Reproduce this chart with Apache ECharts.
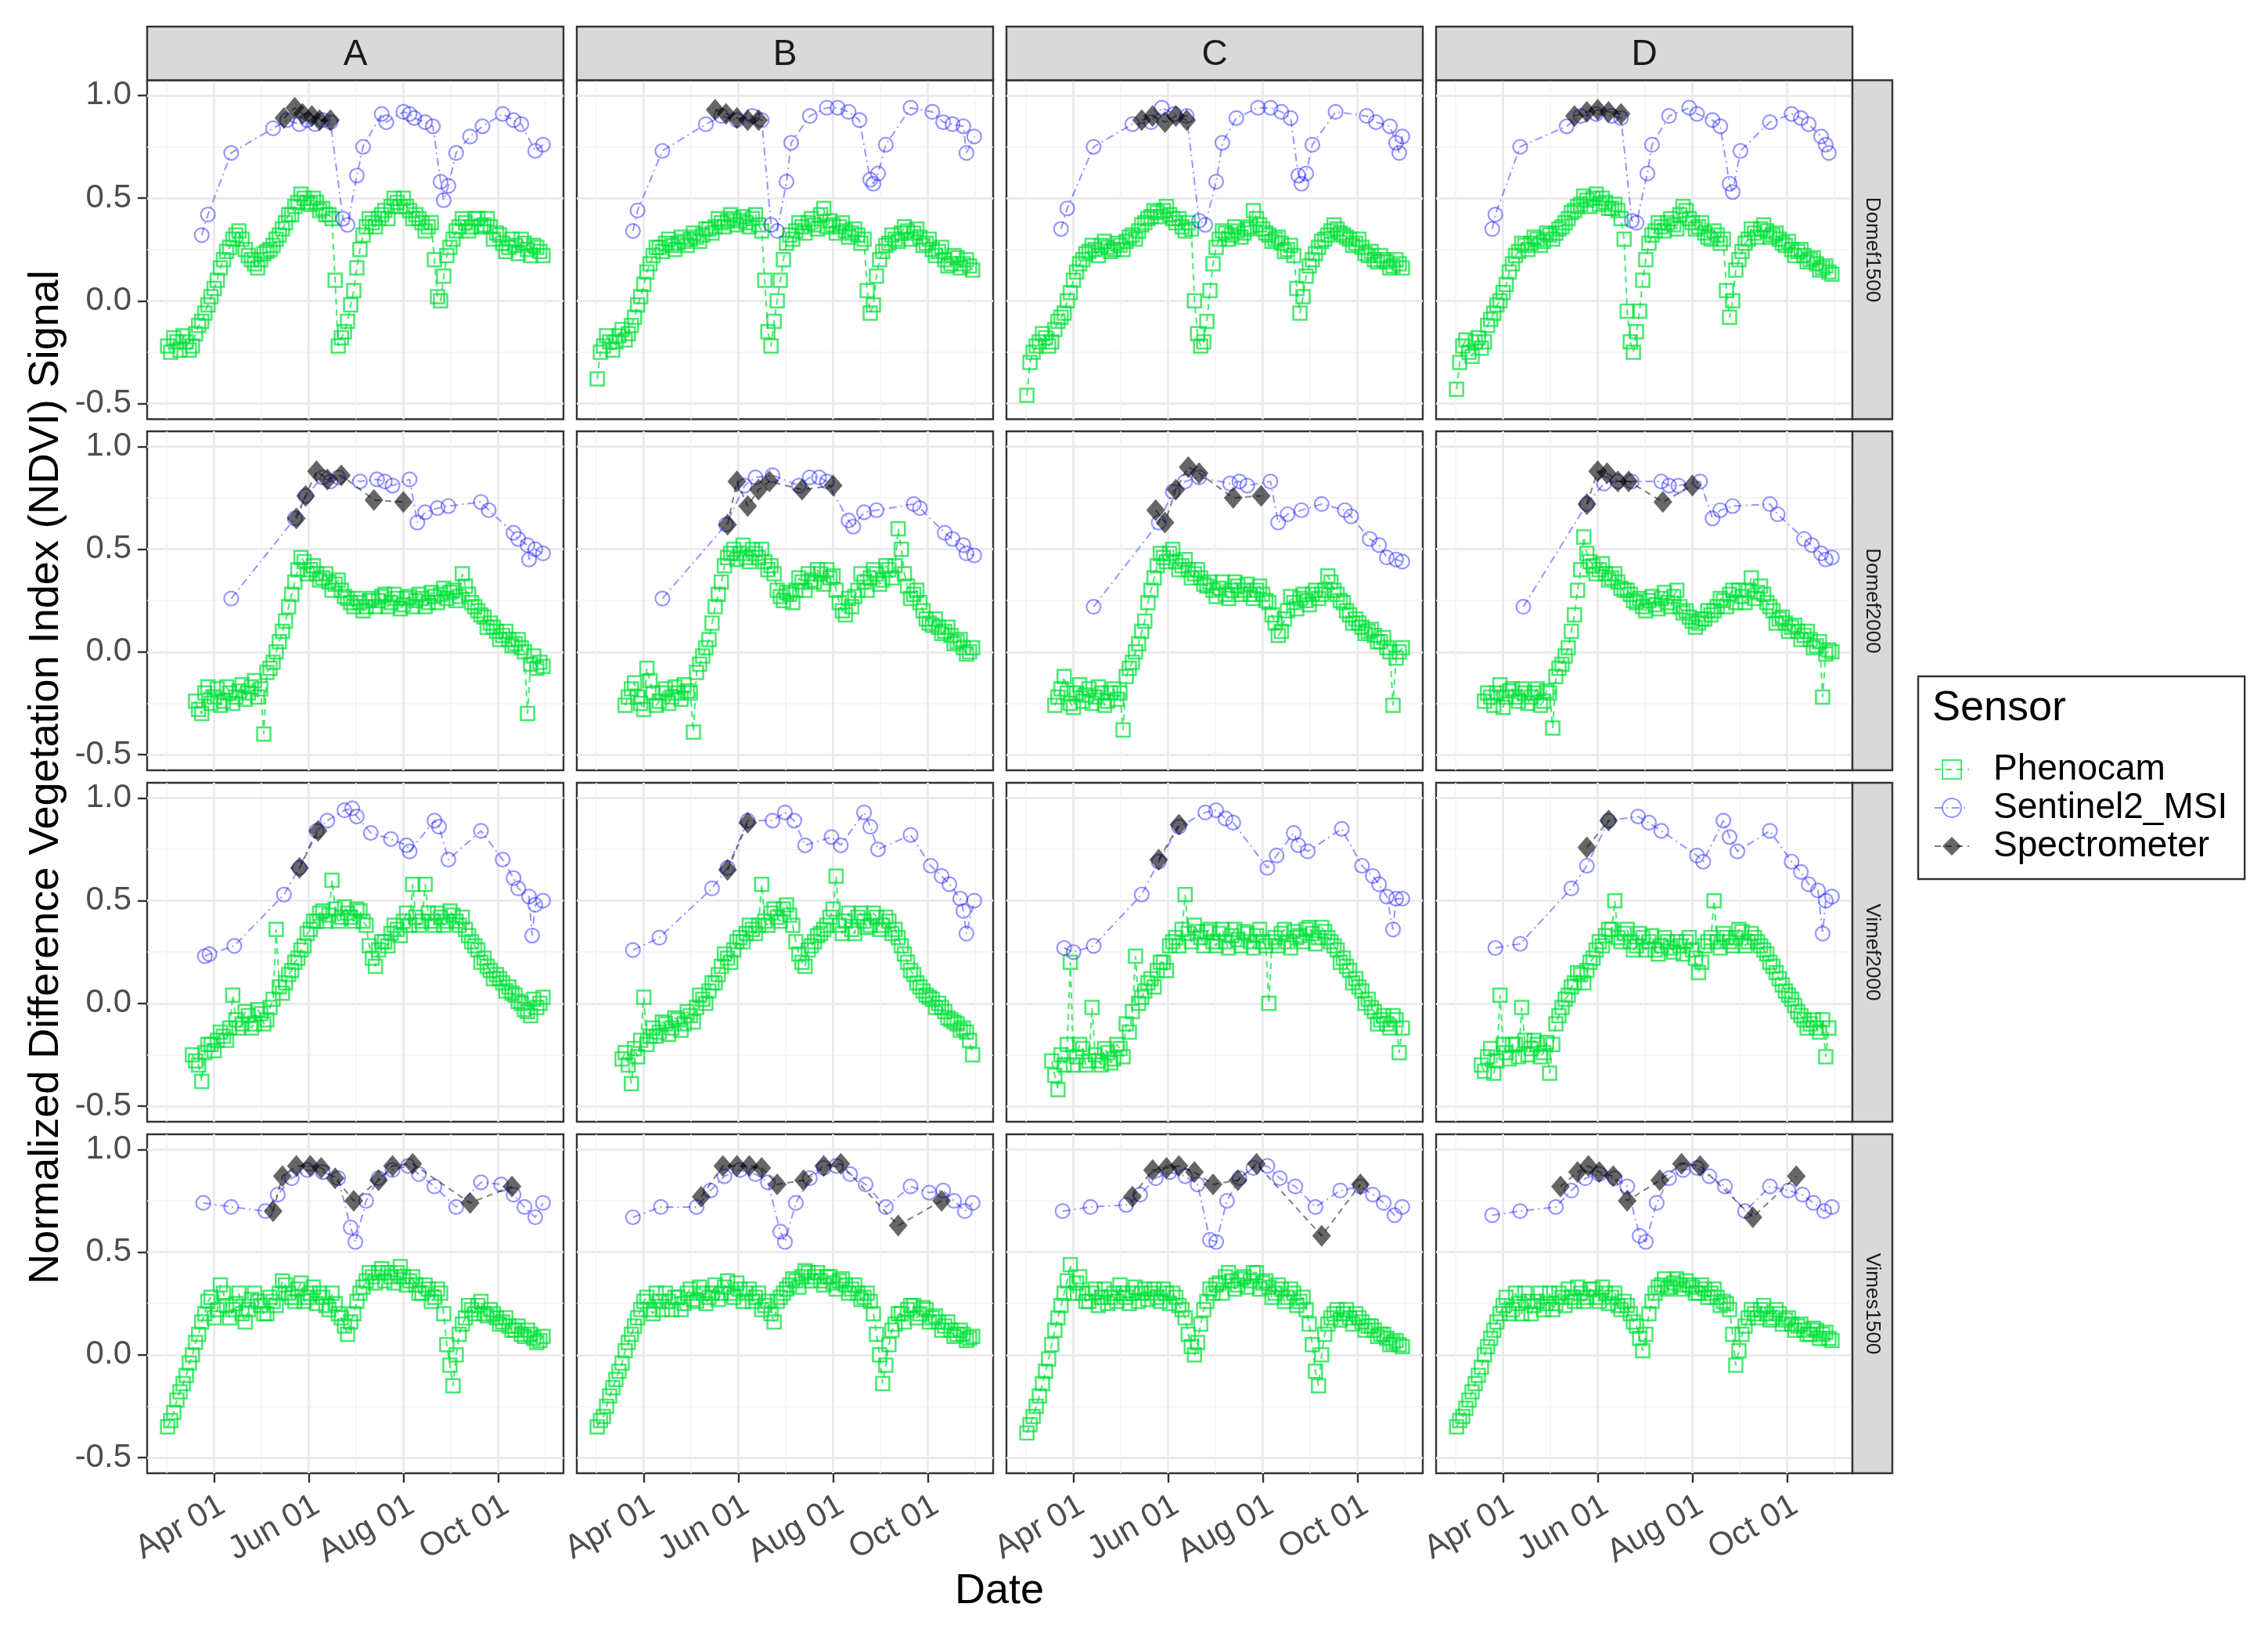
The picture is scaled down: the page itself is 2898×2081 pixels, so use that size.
<!DOCTYPE html>
<html><head><meta charset="utf-8">
<script src="https://cdn.jsdelivr.net/npm/echarts@6/dist/echarts.min.js"></script>
<style>html,body{margin:0;padding:0;background:#fff}#c{width:2898px;height:2081px}</style>
</head><body><div id="c"></div>
<script>
// ---------------- DATA ----------------
const rowNames = ['Domef1500','Domef2000','Vimef2000','Vimes1500'];
const colNames = ['A','B','C','D'];
const seriesNames = ['Phenocam','Sentinel2_MSI','Spectrometer'];
// x values are day of year (Jan 1 = 0, non-leap year)
const xTickDays = [90,151,212,273];
const xTickLabels = ['Apr 01','Jun 01','Aug 01','Oct 01'];
const xMinorDays = [59.5,120.5,181.5,242.5,303.5];
const yTicks = [-0.5,0,0.5,1];
const yTickLabels = ['-0.5','0.0','0.5','1.0'];
const yMinor = [-0.25,0.25,0.75];

// Phenocam sampled on two interleaved day lists
const phenoDaysA = [60,64,68,72,76,80,84,88,92,96,100,104,108,112,116,120,124,128,132,136,140,144,148,152,156,160,164,168,172,176,180,184,188,192,196,200,204,208,212,216,220,224,228,232,236,240,244,248,252,256,260,264,268,272,276,280,284,288,292,296,300];
const phenoDaysB = [62,66,70,74,78,82,86,90,94,98,102,106,110,114,118,122,126,130,134,138,142,146,150,154,158,162,166,170,174,178,182,186,190,194,198,202,206,210,214,218,222,226,230,234,238,242,246,250,254,258,262,266,270,274,278,282,286,290,294,298,302];

const pheno_Domef1500_A = [-0.22,-0.18,-0.24,-0.2,-0.22,-0.12,-0.06,0.02,0.1,0.2, 0.26,0.32,0.3,0.22,0.18,0.2,0.24,0.27,0.32,0.38, 0.42,0.48,0.5,0.47,0.48,0.45,0.42,0.1,-0.18,-0.1, 0.05,0.25,0.36,0.38,0.4,0.44,0.46,0.48,0.5,0.44, 0.42,0.38,0.36,0.2,0.0,0.22,0.3,0.36,0.38,0.36, 0.4,0.37,0.36,0.33,0.28,0.26,0.27,0.3,0.25,0.27, 0.24];
const phenoB_Domef1500_A = [-0.25,-0.2,-0.17,-0.24,-0.16,-0.1,-0.02,0.06,0.16,0.24, 0.3,0.34,0.25,0.2,0.16,0.23,0.25,0.3,0.35,0.42, 0.46,0.52,0.48,0.5,0.44,0.42,0.4,-0.22,-0.15,-0.02, 0.16,0.32,0.4,0.36,0.42,0.4,0.5,0.46,0.46,0.4, 0.4,0.34,0.38,0.02,0.12,0.26,0.34,0.4,0.34,0.4, 0.36,0.4,0.3,0.32,0.24,0.3,0.23,0.28,0.22,0.26, 0.22];
const pheno_Domef1500_B = [-0.38,-0.22,-0.2,-0.2,-0.14,-0.16,-0.08,0.02,0.14,0.22, 0.26,0.28,0.27,0.28,0.29,0.3,0.31,0.32,0.35,0.36, 0.38,0.39,0.4,0.39,0.38,0.4,0.37,0.1,-0.22,0.0, 0.2,0.32,0.34,0.36,0.38,0.37,0.42,0.36,0.37,0.36, 0.34,0.33,0.32,0.3,-0.06,0.12,0.24,0.28,0.3,0.33, 0.34,0.33,0.31,0.28,0.25,0.24,0.2,0.18,0.21,0.18, 0.17];
const phenoB_Domef1500_B = [-0.25,-0.17,-0.24,-0.17,-0.19,-0.12,-0.02,0.08,0.18,0.26, 0.24,0.3,0.25,0.31,0.27,0.33,0.29,0.35,0.33,0.4, 0.36,0.42,0.37,0.41,0.36,0.42,0.34,-0.15,-0.1,0.1, 0.28,0.3,0.38,0.33,0.4,0.35,0.45,0.39,0.33,0.38, 0.31,0.35,0.28,0.05,-0.02,0.2,0.27,0.32,0.29,0.36, 0.3,0.35,0.27,0.3,0.22,0.26,0.17,0.22,0.16,0.2, 0.15];
const pheno_Domef1500_C = [-0.46,-0.25,-0.2,-0.18,-0.2,-0.1,-0.06,0.04,0.14,0.2, 0.24,0.25,0.27,0.26,0.25,0.27,0.29,0.32,0.34,0.38, 0.41,0.43,0.44,0.42,0.38,0.36,0.38,0.0,-0.22,-0.1, 0.18,0.3,0.33,0.32,0.34,0.33,0.36,0.4,0.35,0.32, 0.3,0.28,0.25,0.22,-0.06,0.12,0.2,0.26,0.3,0.34, 0.35,0.32,0.3,0.28,0.26,0.22,0.2,0.22,0.19,0.17, 0.18];
const phenoB_Domef1500_C = [-0.3,-0.22,-0.16,-0.22,-0.14,-0.08,0.0,0.1,0.18,0.23, 0.27,0.22,0.29,0.24,0.28,0.25,0.31,0.3,0.37,0.4, 0.44,0.41,0.46,0.4,0.4,0.34,0.35,-0.16,-0.2,0.05, 0.26,0.34,0.3,0.36,0.31,0.35,0.44,0.37,0.33,0.29, 0.31,0.24,0.27,0.06,0.02,0.17,0.23,0.29,0.32,0.37, 0.33,0.31,0.27,0.3,0.23,0.24,0.19,0.2,0.16,0.2, 0.16];
const pheno_Domef1500_D = [-0.43,-0.22,-0.25,-0.2,-0.23,-0.12,-0.06,0.0,0.08,0.18, 0.24,0.27,0.28,0.3,0.29,0.32,0.33,0.36,0.4,0.44, 0.47,0.49,0.5,0.47,0.48,0.45,0.44,0.3,-0.2,-0.15, 0.1,0.28,0.34,0.36,0.38,0.37,0.42,0.44,0.38,0.36, 0.33,0.3,0.32,0.3,-0.08,0.15,0.24,0.3,0.33,0.35, 0.34,0.32,0.3,0.27,0.25,0.24,0.22,0.2,0.18,0.16, 0.14];
const phenoB_Domef1500_D = [-0.3,-0.19,-0.27,-0.18,-0.2,-0.09,-0.02,0.04,0.14,0.22, 0.28,0.25,0.31,0.27,0.33,0.3,0.35,0.38,0.43,0.46, 0.51,0.46,0.52,0.5,0.45,0.47,0.4,-0.05,-0.25,-0.05, 0.2,0.32,0.38,0.34,0.4,0.35,0.46,0.4,0.35,0.38, 0.31,0.34,0.28,0.05,0.0,0.2,0.28,0.35,0.31,0.37, 0.31,0.33,0.28,0.29,0.22,0.25,0.19,0.21,0.15,0.17, 0.13];

const pheno_Domef2000_A = [null,null,null,null,null,-0.28,-0.2,-0.25,-0.18,-0.24, -0.2,-0.22,-0.16,-0.2,-0.14,-0.18,-0.1,-0.05,0.05,0.15, 0.28,0.4,0.44,0.4,0.38,0.36,0.34,0.33,0.3,0.26, 0.22,0.24,0.22,0.26,0.25,0.28,0.24,0.26,0.23,0.27, 0.25,0.26,0.24,0.27,0.28,0.26,0.3,0.27,0.32,0.24, 0.2,0.17,0.14,0.1,0.08,0.06,0.04,0.02,-0.3,-0.02, -0.05];
const phenoB_Domef2000_A = [null,null,null,null,-0.24,-0.3,-0.17,-0.22,-0.26,-0.17, -0.25,-0.19,-0.23,-0.17,-0.22,-0.4,-0.08,0.0,0.1,0.22, 0.34,0.46,0.38,0.42,0.35,0.38,0.3,0.35,0.27,0.24, 0.26,0.2,0.25,0.22,0.27,0.22,0.28,0.21,0.26,0.22, 0.28,0.22,0.29,0.24,0.31,0.29,0.25,0.38,0.28,0.22, 0.18,0.12,0.12,0.06,0.1,0.03,0.06,0.0,-0.06,-0.08, -0.07];
const pheno_Domef2000_B = [null,null,null,null,null,-0.22,-0.15,-0.25,-0.08,-0.2, -0.24,-0.18,-0.22,-0.2,-0.16,-0.2,-0.1,-0.02,0.06,0.22, 0.34,0.46,0.5,0.48,0.46,0.5,0.46,0.44,0.42,0.3, 0.25,0.28,0.3,0.34,0.38,0.34,0.38,0.4,0.37,0.24, 0.18,0.22,0.3,0.34,0.36,0.38,0.35,0.4,0.42,0.5, 0.32,0.28,0.24,0.16,0.13,0.12,0.1,0.08,0.05,0.02, 0.0];
const phenoB_Domef2000_B = [null,null,null,null,-0.26,-0.18,-0.22,-0.28,-0.14,-0.26, -0.2,-0.25,-0.17,-0.23,-0.19,-0.39,-0.06,0.02,0.14,0.28, 0.42,0.48,0.45,0.52,0.44,0.48,0.5,0.4,0.38,0.27, 0.29,0.24,0.36,0.3,0.35,0.4,0.33,0.36,0.3,0.2, 0.26,0.27,0.38,0.3,0.4,0.33,0.42,0.36,0.6,0.38, 0.26,0.3,0.2,0.14,0.16,0.09,0.12,0.04,0.06,-0.01, 0.02];
const pheno_Domef2000_C = [null,null,null,null,null,-0.22,-0.12,-0.25,-0.2,-0.24, -0.18,-0.22,-0.2,-0.24,-0.18,-0.2,-0.12,-0.05,0.04,0.15, 0.3,0.42,0.46,0.48,0.44,0.42,0.4,0.38,0.36,0.32, 0.3,0.31,0.28,0.3,0.32,0.3,0.28,0.3,0.28,0.24, 0.14,0.1,0.2,0.24,0.26,0.25,0.28,0.26,0.3,0.34, 0.28,0.24,0.18,0.16,0.12,0.1,0.08,0.05,0.02,-0.26, 0.0];
const phenoB_Domef2000_C = [null,null,null,null,-0.26,-0.18,-0.2,-0.27,-0.16,-0.21, -0.25,-0.17,-0.26,-0.2,-0.23,-0.38,-0.08,0.0,0.1,0.24, 0.36,0.48,0.44,0.5,0.4,0.45,0.36,0.4,0.33,0.34, 0.27,0.34,0.26,0.34,0.28,0.33,0.26,0.32,0.25,0.18, 0.08,0.16,0.27,0.21,0.28,0.23,0.3,0.28,0.37,0.3, 0.25,0.2,0.14,0.14,0.09,0.11,0.05,0.07,0.0,-0.03, 0.02];
const pheno_Domef2000_D = [null,null,null,null,null,-0.2,-0.26,-0.16,-0.22,-0.18, -0.24,-0.2,-0.22,-0.18,-0.24,-0.2,-0.12,-0.06,0.02,0.18, 0.4,0.48,0.42,0.4,0.38,0.36,0.34,0.3,0.28,0.24, 0.22,0.25,0.23,0.26,0.24,0.27,0.22,0.2,0.15,0.14, 0.16,0.18,0.22,0.25,0.28,0.24,0.27,0.3,0.26,0.32, 0.24,0.2,0.16,0.14,0.12,0.1,0.08,0.06,0.03,-0.22, 0.01];
const phenoB_Domef2000_D = [null,null,null,null,-0.24,-0.22,-0.2,-0.27,-0.19,-0.22, -0.18,-0.25,-0.2,-0.26,-0.19,-0.37,-0.08,-0.02,0.1,0.3, 0.56,0.44,0.38,0.43,0.35,0.38,0.31,0.3,0.25,0.26, 0.2,0.27,0.21,0.29,0.22,0.3,0.19,0.17,0.12,0.16, 0.2,0.2,0.26,0.22,0.3,0.3,0.24,0.36,0.29,0.28, 0.22,0.14,0.17,0.1,0.13,0.06,0.1,0.02,0.05,-0.01, 0.0];

const pheno_Vimef2000_A = [null,null,null,null,-0.25,-0.3,-0.24,-0.2,-0.18,-0.16, -0.12,-0.08,-0.1,-0.06,-0.1,-0.05,-0.08,0.02,0.08,0.1, 0.16,0.22,0.28,0.36,0.4,0.45,0.43,0.46,0.42,0.44, 0.4,0.45,0.38,0.22,0.26,0.3,0.34,0.36,0.4,0.38, 0.42,0.4,0.44,0.38,0.42,0.4,0.43,0.38,0.36,0.3, 0.26,0.22,0.16,0.14,0.1,0.08,0.04,0.0,-0.04,0.02, 0.0];
const phenoB_Vimef2000_A = [null,null,null,null,-0.28,-0.38,-0.2,-0.23,-0.14,-0.18, 0.04,-0.12,-0.04,-0.12,-0.03,-0.1,-0.02,0.36,0.05,0.14, 0.2,0.26,0.34,0.4,0.44,0.4,0.6,0.4,0.47,0.42, 0.46,0.4,0.28,0.18,0.3,0.28,0.38,0.33,0.44,0.58, 0.38,0.58,0.4,0.44,0.38,0.45,0.4,0.42,0.33,0.28, 0.2,0.18,0.12,0.12,0.06,0.05,0.01,-0.03,-0.06,-0.02, 0.03];
const pheno_Vimef2000_B = [null,null,null,null,-0.27,-0.3,-0.22,-0.18,-0.2,-0.12, -0.14,-0.1,-0.12,-0.08,-0.1,-0.06,-0.02,0.02,0.06,0.1, 0.18,0.22,0.26,0.32,0.34,0.36,0.38,0.4,0.44,0.42, 0.46,0.43,0.3,0.2,0.26,0.3,0.34,0.38,0.46,0.38, 0.4,0.36,0.42,0.4,0.38,0.42,0.38,0.4,0.36,0.28, 0.2,0.14,0.08,0.04,0.02,0.0,-0.04,-0.08,-0.1,-0.12, -0.18];
const phenoB_Vimef2000_B = [null,null,null,null,-0.24,-0.39,-0.26,0.03,-0.16,-0.16, -0.09,-0.15,-0.07,-0.13,-0.04,-0.09,0.04,0.0,0.1,0.14, 0.24,0.2,0.3,0.3,0.38,0.34,0.58,0.38,0.46,0.4, 0.48,0.38,0.24,0.18,0.28,0.33,0.36,0.42,0.62,0.34, 0.44,0.34,0.44,0.37,0.44,0.36,0.42,0.34,0.32,0.24, 0.16,0.1,0.06,0.03,-0.02,-0.02,-0.07,-0.09,-0.13,-0.14, -0.25];
const pheno_Vimef2000_C = [null,null,null,null,-0.28,-0.42,-0.3,0.2,-0.26,-0.22, -0.28,-0.25,-0.3,-0.24,-0.27,-0.22,-0.1,-0.04,0.0,0.06, 0.12,0.16,0.2,0.28,0.32,0.36,0.34,0.38,0.32,0.35, 0.3,0.34,0.3,0.33,0.31,0.35,0.3,0.33,0.3,0.0, 0.32,0.34,0.3,0.35,0.33,0.36,0.34,0.32,0.35,0.3, 0.26,0.22,0.16,0.12,0.06,0.02,-0.04,-0.08,-0.1,-0.06, -0.24];
const phenoB_Vimef2000_C = [null,null,null,null,-0.35,-0.25,-0.2,-0.3,-0.2,-0.3, -0.02,-0.28,-0.22,-0.29,-0.2,-0.26,-0.14,0.23,0.03,0.1, 0.08,0.2,0.16,0.3,0.28,0.53,0.3,0.35,0.28,0.36, 0.28,0.36,0.27,0.36,0.28,0.34,0.27,0.36,0.28,0.3, 0.28,0.36,0.27,0.32,0.3,0.37,0.29,0.37,0.32,0.28, 0.2,0.18,0.1,0.08,0.0,-0.02,-0.1,-0.06,-0.12,-0.08, -0.12];
const pheno_Vimef2000_D = [null,null,null,null,-0.3,-0.26,-0.34,0.04,-0.24,-0.2, -0.26,-0.18,-0.22,-0.2,-0.24,-0.34,-0.1,-0.02,0.04,0.1, 0.14,0.16,0.22,0.3,0.33,0.36,0.32,0.34,0.3,0.28, 0.32,0.3,0.26,0.28,0.3,0.25,0.28,0.3,0.26,0.15, 0.28,0.32,0.3,0.34,0.3,0.32,0.35,0.3,0.32,0.28, 0.24,0.18,0.12,0.06,0.02,-0.04,-0.08,-0.1,-0.12,-0.08, -0.12];
const phenoB_Vimef2000_D = [null,null,null,null,-0.33,-0.22,-0.28,-0.2,-0.27,-0.2, -0.02,-0.25,-0.18,-0.26,-0.19,-0.2,-0.06,0.02,0.08,0.15, 0.1,0.2,0.26,0.28,0.36,0.5,0.3,0.36,0.26,0.34, 0.26,0.33,0.24,0.32,0.27,0.3,0.24,0.32,0.22,0.2, 0.3,0.5,0.27,0.32,0.28,0.36,0.28,0.34,0.3,0.26, 0.2,0.15,0.09,0.04,-0.01,-0.06,-0.12,-0.08,-0.14,-0.26, null];

const pheno_Vimes1500_A = [-0.35,-0.28,-0.18,-0.1,0.0,0.1,0.2,0.28,0.22,0.3, 0.18,0.25,0.2,0.22,0.3,0.24,0.2,0.26,0.3,0.34, 0.28,0.32,0.26,0.3,0.25,0.28,0.22,0.25,0.18,0.1, 0.2,0.3,0.36,0.38,0.4,0.36,0.38,0.4,0.38,0.36, 0.34,0.3,0.32,0.28,0.3,0.05,-0.15,0.1,0.18,0.22, 0.24,0.2,0.22,0.18,0.16,0.14,0.12,0.1,0.12,0.08, 0.07];
const phenoB_Vimes1500_A = [-0.32,-0.22,-0.14,-0.04,0.06,0.16,0.26,0.18,0.34,0.24, 0.22,0.3,0.16,0.27,0.26,0.2,0.28,0.24,0.36,0.3, 0.26,0.35,0.28,0.33,0.3,0.24,0.3,0.2,0.14,0.16, 0.26,0.33,0.4,0.35,0.42,0.4,0.35,0.43,0.34,0.38, 0.3,0.34,0.26,0.32,0.2,-0.05,0.0,0.15,0.24,0.2, 0.26,0.19,0.2,0.15,0.18,0.12,0.14,0.09,0.1,0.06, 0.09];
const pheno_Vimes1500_B = [-0.35,-0.3,-0.2,-0.12,-0.04,0.06,0.14,0.22,0.28,0.2, 0.26,0.3,0.22,0.28,0.25,0.32,0.26,0.3,0.28,0.34, 0.3,0.36,0.28,0.32,0.3,0.26,0.3,0.24,0.2,0.26, 0.3,0.34,0.36,0.38,0.4,0.38,0.36,0.38,0.35,0.36, 0.34,0.32,0.3,0.28,0.26,0.1,-0.14,0.05,0.15,0.2, 0.22,0.24,0.2,0.22,0.18,0.16,0.14,0.12,0.1,0.1, 0.08];
const phenoB_Vimes1500_B = [-0.32,-0.25,-0.16,-0.08,0.02,0.1,0.18,0.26,0.22,0.3, 0.22,0.26,0.28,0.22,0.3,0.27,0.33,0.25,0.3,0.27, 0.33,0.3,0.35,0.26,0.32,0.28,0.22,0.26,0.16,0.28, 0.32,0.37,0.33,0.41,0.36,0.4,0.34,0.38,0.32,0.37, 0.3,0.34,0.27,0.3,0.2,0.0,-0.05,0.12,0.2,0.16, 0.24,0.18,0.23,0.16,0.19,0.12,0.16,0.09,0.12,0.07, 0.09];
const pheno_Vimes1500_C = [-0.38,-0.3,-0.2,-0.08,0.05,0.18,0.3,0.44,0.35,0.3, 0.26,0.32,0.28,0.25,0.3,0.34,0.28,0.3,0.26,0.32, 0.3,0.28,0.32,0.25,0.28,0.22,0.1,0.0,0.15,0.26, 0.3,0.35,0.38,0.36,0.34,0.38,0.36,0.4,0.35,0.33, 0.3,0.32,0.28,0.3,0.26,0.22,0.05,-0.15,0.1,0.18, 0.22,0.2,0.18,0.2,0.16,0.14,0.12,0.1,0.08,0.06, 0.05];
const phenoB_Vimes1500_C = [-0.34,-0.25,-0.14,-0.02,0.12,0.24,0.36,0.3,0.38,0.26, 0.3,0.24,0.32,0.28,0.26,0.3,0.25,0.33,0.3,0.27, 0.32,0.26,0.3,0.3,0.24,0.18,0.04,0.06,0.22,0.32, 0.34,0.3,0.4,0.32,0.37,0.33,0.4,0.32,0.36,0.28, 0.34,0.26,0.32,0.24,0.28,0.15,-0.08,0.0,0.15,0.2, 0.17,0.22,0.15,0.18,0.12,0.14,0.09,0.1,0.05,0.07, 0.04];
const pheno_Vimes1500_D = [-0.35,-0.3,-0.22,-0.14,-0.06,0.04,0.12,0.2,0.28,0.22, 0.25,0.3,0.2,0.26,0.22,0.3,0.25,0.28,0.32,0.26, 0.3,0.28,0.32,0.26,0.3,0.28,0.24,0.26,0.2,0.14, 0.02,0.2,0.3,0.34,0.32,0.35,0.34,0.36,0.33,0.3, 0.32,0.3,0.28,0.26,0.22,-0.05,0.1,0.18,0.2,0.22, 0.2,0.18,0.2,0.17,0.15,0.14,0.12,0.1,0.12,0.1, 0.08];
const phenoB_Vimes1500_D = [-0.32,-0.26,-0.18,-0.1,0.0,0.08,0.16,0.24,0.2,0.3, 0.2,0.26,0.24,0.3,0.25,0.22,0.3,0.24,0.28,0.33, 0.26,0.32,0.28,0.33,0.25,0.3,0.22,0.24,0.16,0.08, 0.1,0.26,0.33,0.37,0.33,0.37,0.32,0.34,0.3,0.34, 0.28,0.32,0.24,0.25,0.1,0.02,0.14,0.22,0.18,0.24, 0.17,0.22,0.15,0.18,0.12,0.15,0.1,0.13,0.08,0.11, 0.07];

// Sentinel2_MSI: [day of year, NDVI]
const s2_Domef1500_A = [[82,0.32],[86,0.42],[101,0.72],[128,0.84],[137,0.88],[145,0.86],[150,0.88],[155,0.86],[160,0.88],[165,0.87],[173,0.40],[176,0.37],[182,0.61],[186,0.75],[198,0.91],[201,0.87],[212,0.92],[216,0.91],[219,0.89],[226,0.87],[231,0.85],[236,0.58],[238,0.49],[241,0.56],[246,0.72],[255,0.80],[263,0.85],[276,0.91],[283,0.88],[288,0.86],[297,0.73],[302,0.76]];
const s2_Domef1500_B = [[83,0.34],[86,0.44],[102,0.73],[130,0.86],[140,0.90],[150,0.88],[160,0.90],[166,0.88],[172,0.37],[176,0.34],[182,0.58],[185,0.77],[197,0.90],[208,0.94],[215,0.94],[222,0.92],[229,0.88],[236,0.59],[238,0.57],[241,0.62],[246,0.76],[262,0.94],[276,0.92],[283,0.87],[289,0.86],[296,0.85],[298,0.72],[303,0.80]];
const s2_Domef1500_C = [[82,0.35],[86,0.45],[103,0.75],[128,0.86],[140,0.87],[147,0.94],[155,0.91],[163,0.90],[171,0.39],[175,0.37],[182,0.58],[186,0.77],[195,0.89],[209,0.94],[217,0.94],[224,0.92],[230,0.89],[235,0.61],[237,0.57],[240,0.62],[244,0.76],[259,0.92],[279,0.90],[285,0.87],[294,0.85],[298,0.77],[300,0.72],[302,0.80]];
const s2_Domef1500_D = [[83,0.35],[85,0.42],[101,0.75],[131,0.85],[140,0.90],[150,0.91],[160,0.90],[166,0.89],[173,0.39],[176,0.38],[183,0.62],[186,0.76],[197,0.90],[210,0.94],[215,0.91],[225,0.88],[230,0.85],[236,0.57],[238,0.53],[243,0.73],[262,0.87],[276,0.91],[282,0.89],[287,0.86],[295,0.80],[298,0.76],[300,0.72]];
const s2_Domef2000_A = [[101,0.26],[142,0.65],[149,0.76],[160,0.85],[165,0.83],[170,0.85],[184,0.83],[195,0.84],[200,0.83],[205,0.81],[216,0.84],[221,0.63],[226,0.68],[234,0.70],[241,0.71],[262,0.73],[267,0.69],[283,0.58],[286,0.55],[292,0.52],[293,0.45],[297,0.50],[302,0.48]];
const s2_Domef2000_B = [[102,0.26],[143,0.62],[155,0.81],[162,0.85],[173,0.86],[190,0.81],[197,0.85],[203,0.85],[208,0.83],[222,0.64],[225,0.61],[232,0.68],[240,0.69],[264,0.72],[268,0.70],[284,0.58],[289,0.55],[296,0.52],[298,0.48],[303,0.47]];
const s2_Domef2000_C = [[103,0.22],[145,0.63],[154,0.78],[162,0.83],[171,0.85],[191,0.82],[197,0.83],[202,0.81],[217,0.83],[222,0.63],[228,0.67],[237,0.69],[250,0.72],[265,0.69],[269,0.66],[281,0.55],[287,0.52],[292,0.46],[298,0.45],[302,0.44]];
const s2_Domef2000_D = [[103,0.22],[144,0.72],[155,0.82],[164,0.83],[173,0.83],[192,0.83],[197,0.81],[203,0.81],[217,0.83],[225,0.65],[230,0.69],[238,0.71],[262,0.72],[267,0.67],[284,0.55],[289,0.52],[295,0.48],[298,0.45],[302,0.46]];
const s2_Vimef2000_A = [[84,0.23],[87,0.24],[103,0.28],[135,0.53],[145,0.66],[156,0.84],[163,0.89],[174,0.94],[179,0.95],[182,0.91],[191,0.83],[204,0.80],[214,0.77],[216,0.74],[232,0.89],[235,0.86],[241,0.70],[262,0.84],[276,0.70],[283,0.61],[286,0.56],[293,0.52],[295,0.33],[297,0.48],[302,0.50]];
const s2_Vimef2000_B = [[83,0.26],[100,0.32],[134,0.56],[144,0.66],[157,0.89],[173,0.89],[181,0.93],[187,0.89],[194,0.77],[211,0.81],[217,0.77],[232,0.93],[236,0.86],[241,0.75],[262,0.82],[275,0.67],[282,0.62],[287,0.58],[294,0.51],[296,0.45],[298,0.34],[303,0.50]];
const s2_Vimef2000_C = [[84,0.27],[90,0.25],[103,0.28],[134,0.53],[145,0.69],[158,0.86],[175,0.93],[182,0.94],[188,0.90],[193,0.88],[215,0.66],[221,0.72],[232,0.83],[235,0.77],[241,0.74],[263,0.85],[276,0.67],[283,0.62],[287,0.58],[292,0.52],[296,0.36],[298,0.51],[302,0.51]];
const s2_Vimef2000_D = [[85,0.27],[101,0.29],[134,0.56],[144,0.67],[158,0.89],[177,0.91],[184,0.88],[192,0.84],[215,0.72],[219,0.69],[232,0.89],[236,0.81],[241,0.74],[262,0.84],[276,0.69],[282,0.64],[287,0.58],[293,0.55],[296,0.34],[298,0.50],[302,0.52]];
const s2_Vimes1500_A = [[83,0.74],[101,0.72],[123,0.70],[131,0.78],[140,0.86],[150,0.90],[160,0.89],[170,0.86],[178,0.62],[181,0.55],[188,0.75],[196,0.86],[205,0.90],[215,0.92],[222,0.88],[232,0.82],[246,0.72],[262,0.84],[275,0.83],[283,0.78],[290,0.72],[297,0.67],[302,0.74]];
const s2_Vimes1500_B = [[83,0.67],[101,0.72],[124,0.72],[133,0.80],[142,0.87],[152,0.90],[162,0.88],[170,0.84],[178,0.60],[181,0.55],[188,0.74],[197,0.86],[206,0.91],[214,0.92],[223,0.88],[233,0.83],[246,0.72],[262,0.82],[274,0.79],[283,0.80],[290,0.75],[297,0.70],[302,0.74]];
const s2_Vimes1500_C = [[83,0.70],[101,0.72],[124,0.73],[133,0.78],[143,0.86],[152,0.89],[162,0.87],[170,0.83],[178,0.56],[182,0.55],[189,0.75],[197,0.86],[206,0.91],[215,0.92],[223,0.86],[233,0.82],[246,0.72],[262,0.80],[275,0.82],[283,0.78],[290,0.74],[297,0.68],[302,0.72]];
const s2_Vimes1500_D = [[83,0.68],[101,0.70],[124,0.72],[134,0.80],[143,0.86],[152,0.88],[162,0.86],[170,0.82],[178,0.58],[182,0.55],[189,0.74],[197,0.86],[206,0.90],[215,0.91],[223,0.87],[233,0.82],[246,0.70],[262,0.82],[274,0.80],[283,0.78],[290,0.74],[297,0.70],[302,0.72]];

// Spectrometer: [day of year, NDVI]
const sp_Domef1500_A = [[135,0.89],[142,0.94],[147,0.91],[153,0.90],[158,0.88],[165,0.88]];
const sp_Domef1500_B = [[136,0.93],[143,0.91],[150,0.89],[157,0.88],[164,0.88]];
const sp_Domef1500_C = [[134,0.88],[141,0.90],[149,0.87],[156,0.90],[163,0.88]];
const sp_Domef1500_D = [[136,0.90],[144,0.92],[151,0.93],[158,0.92],[166,0.91]];
const sp_Domef2000_A = [[143,0.65],[149,0.76],[156,0.88],[163,0.84],[172,0.86],[193,0.74],[212,0.73]];
const sp_Domef2000_B = [[144,0.62],[150,0.83],[157,0.71],[164,0.79],[171,0.83],[192,0.79],[212,0.81]];
const sp_Domef2000_C = [[143,0.69],[149,0.63],[156,0.79],[164,0.90],[171,0.87],[193,0.75],[211,0.76]];
const sp_Domef2000_D = [[144,0.72],[151,0.88],[157,0.87],[164,0.83],[171,0.83],[193,0.73],[212,0.81]];
const sp_Vimef2000_A = [[145,0.66],[157,0.84]];
const sp_Vimef2000_B = [[144,0.65],[157,0.88]];
const sp_Vimef2000_C = [[145,0.70],[158,0.87]];
const sp_Vimef2000_D = [[144,0.76],[158,0.89]];
const sp_Vimes1500_A = [[128,0.70],[134,0.87],[143,0.92],[152,0.92],[159,0.91],[168,0.86],[180,0.75],[196,0.85],[205,0.92],[218,0.93],[255,0.74],[282,0.82]];
const sp_Vimes1500_B = [[127,0.77],[141,0.92],[150,0.92],[158,0.92],[166,0.91],[176,0.83],[193,0.85],[206,0.92],[217,0.93],[254,0.63],[282,0.75]];
const sp_Vimes1500_C = [[128,0.77],[141,0.90],[150,0.91],[158,0.92],[168,0.89],[180,0.83],[196,0.85],[208,0.93],[250,0.58],[275,0.83]];
const sp_Vimes1500_D = [[127,0.82],[138,0.89],[145,0.92],[152,0.89],[161,0.87],[170,0.75],[191,0.85],[205,0.93],[217,0.92],[251,0.67],[279,0.87]];

// ---------------- LAYOUT / STYLE ----------------
const FONT = "'Liberation Sans', Arial, Helvetica, sans-serif";
const gridLeft = [188, 737, 1286, 1835];
const gridTop = [102.5, 551, 1000, 1449];
const gridW = 532, gridH = 433;
const xMin = 46.8, xMax = 315.2, yMin = -0.576, yMax = 1.074;
const GREEN = 'rgba(0,225,55,0.72)';
const BLUE = 'rgba(20,20,255,0.45)';
const DARK = 'rgba(0,0,0,0.6)';
const FRAME = '#333333';

const LOOKUP = {};
rowNames.forEach(rn => colNames.forEach(cn => {
  LOOKUP[rn + cn] = {
    pa: eval('pheno_' + rn + '_' + cn), pb: eval('phenoB_' + rn + '_' + cn),
    s2: eval('s2_' + rn + '_' + cn), sp: eval('sp_' + rn + '_' + cn)
  };
}));

const grids = [], xAxes = [], yAxes = [], series = [], graphics = [];

rowNames.forEach((rn, r) => {
  colNames.forEach((cn, c) => {
    const k = r * 4 + c;
    const isBottom = r === 3, isLeft = c === 0;
    const D = LOOKUP[rn + cn];
    grids.push({left: gridLeft[c], top: gridTop[r], width: gridW, height: gridH,
      show: true, borderColor: FRAME, borderWidth: 2.4, backgroundColor: '#fff'});
    xAxes.push({type: 'value', gridIndex: k, min: xMin, max: xMax, position: 'bottom',
      axisLine: {show: false, onZero: false},
      axisTick: {show: isBottom, customValues: xTickDays, length: 12, lineStyle: {color: FRAME, width: 2.4}},
      axisLabel: {show: isBottom, customValues: xTickDays, rotate: 30, margin: 20,
        fontSize: 42, fontFamily: FONT, color: '#4D4D4D', align: 'right', verticalAlign: 'top',
        formatter: v => { const i = xTickDays.indexOf(Math.round(v)); return i >= 0 ? xTickLabels[i] : ''; }},
      splitLine: {show: true, lineStyle: {color: '#EBEBEB', width: 3}}
    });
    xAxes.push({type: 'value', gridIndex: k, min: xMin, max: xMax, position: 'top',
      axisLine: {show: false, onZero: false}, axisTick: {show: false, customValues: xMinorDays},
      axisLabel: {show: false, customValues: xMinorDays},
      splitLine: {show: true, lineStyle: {color: '#F3F3F3', width: 1.5}}
    });
    yAxes.push({type: 'value', gridIndex: k, min: yMin, max: yMax, position: 'left',
      axisLine: {show: false, onZero: false},
      axisTick: {show: isLeft, customValues: yTicks, length: 12, lineStyle: {color: FRAME, width: 2.4}},
      axisLabel: {show: isLeft, customValues: yTicks, margin: 20, fontSize: 42, fontFamily: FONT, color: '#4D4D4D',
        formatter: v => { const i = yTicks.findIndex(t => Math.abs(t - v) < 1e-6); return i >= 0 ? yTickLabels[i] : ''; }},
      splitLine: {show: true, lineStyle: {color: '#EBEBEB', width: 3}}
    });
    yAxes.push({type: 'value', gridIndex: k, min: yMin, max: yMax, position: 'right',
      axisLine: {show: false, onZero: false}, axisTick: {show: false, customValues: yMinor},
      axisLabel: {show: false, customValues: yMinor},
      splitLine: {show: true, lineStyle: {color: '#F3F3F3', width: 1.5}}
    });
    const phenoData = phenoDaysA.map((d, i) => [d, D.pa[i]])
      .concat(phenoDaysB.map((d, i) => [d, D.pb[i]]))
      .sort((a, b) => a[0] - b[0]);
    const common = {type: 'line', xAxisIndex: 2 * k, yAxisIndex: 2 * k, showAllSymbol: true,
      connectNulls: false, animation: false, silent: true};
    series.push(Object.assign({}, common, {name: 'Phenocam', z: 2,
      data: phenoData, symbol: 'rect', symbolSize: 17,
      itemStyle: {color: 'rgba(0,0,0,0)', borderColor: GREEN, borderWidth: 2.5},
      lineStyle: {color: GREEN, width: 2, type: [8, 6]}}));
    series.push(Object.assign({}, common, {name: 'Sentinel2_MSI', z: 3,
      data: D.s2, symbol: 'circle', symbolSize: 18,
      itemStyle: {color: 'rgba(0,0,0,0)', borderColor: BLUE, borderWidth: 2.2},
      lineStyle: {color: BLUE, width: 2, type: [10, 5, 2, 5]}}));
    series.push(Object.assign({}, common, {name: 'Spectrometer', z: 4,
      data: D.sp, symbol: 'diamond', symbolSize: [24, 28],
      itemStyle: {color: DARK, borderWidth: 0},
      lineStyle: {color: 'rgba(0,0,0,0.5)', width: 2, type: [8, 6]}}));
  });
});

// facet strips (top)
colNames.forEach((cn, c) => {
  graphics.push({type: 'rect', shape: {x: gridLeft[c], y: 34, width: gridW, height: 68.5},
    style: {fill: '#D9D9D9', stroke: FRAME, lineWidth: 2.4}, z: 10});
  graphics.push({type: 'text', x: gridLeft[c] + gridW / 2, y: 70, z: 11,
    style: {text: cn, fontSize: 46, fontFamily: FONT, fill: '#1A1A1A', align: 'center', verticalAlign: 'middle'}});
});
// facet strips (right)
rowNames.forEach((rn, r) => {
  graphics.push({type: 'rect', shape: {x: gridLeft[3] + gridW, y: gridTop[r], width: 51, height: gridH},
    style: {fill: '#D9D9D9', stroke: FRAME, lineWidth: 2.4}, z: 10});
  graphics.push({type: 'text', x: gridLeft[3] + gridW + 25.5, y: gridTop[r] + gridH / 2, rotation: -Math.PI / 2, z: 11,
    style: {text: rn, fontSize: 26, fontFamily: FONT, fill: '#1A1A1A', align: 'center', verticalAlign: 'middle'}});
});
// axis titles
graphics.push({type: 'text', x: 1277, y: 2033, z: 11,
  style: {text: 'Date', fontSize: 54, fontFamily: FONT, fill: '#000', align: 'center', verticalAlign: 'middle'}});
graphics.push({type: 'text', x: 59, y: 993, rotation: Math.PI / 2, z: 11,
  style: {text: 'Normalized Difference Vegetation Index (NDVI) Signal', fontSize: 54, fontFamily: FONT, fill: '#000', align: 'center', verticalAlign: 'middle'}});
// legend title
graphics.push({type: 'text', x: 2469, y: 905, z: 11,
  style: {text: 'Sensor', fontSize: 54, fontFamily: FONT, fill: '#000', align: 'left', verticalAlign: 'middle'}});

const chart = echarts.init(document.getElementById('c'), null, {renderer: 'canvas'});
chart.setOption({
  backgroundColor: '#fff',
  animation: false,
  grid: grids, xAxis: xAxes, yAxis: yAxes, series: series,
  legend: {data: seriesNames, orient: 'vertical', left: 2451, top: 864,
    padding: [95, 22, 18, 20], itemGap: 1, itemWidth: 44, itemHeight: 30,
    borderColor: FRAME, borderWidth: 2.4, selectedMode: false,
    textStyle: {fontSize: 46, fontFamily: FONT, color: '#000', lineHeight: 48, padding: [0, 0, 0, 26]}},
  graphic: graphics
});
</script>
</body></html>
